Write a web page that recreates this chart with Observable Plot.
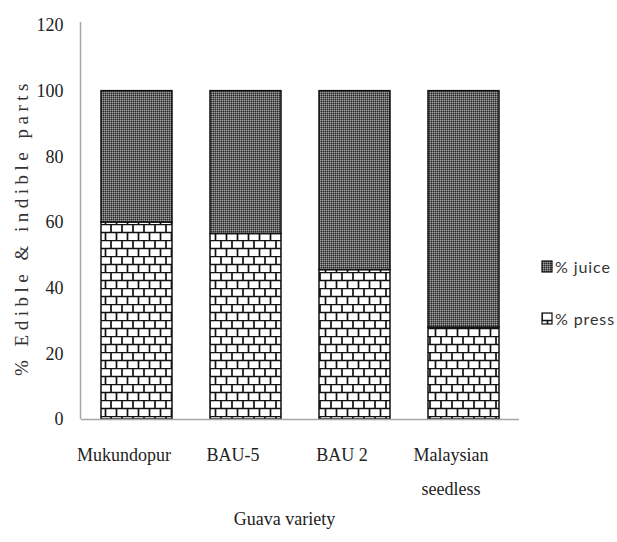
<!DOCTYPE html>
<html>
<head>
<meta charset="utf-8">
<script src="https://cdn.jsdelivr.net/npm/d3@7"></script>
<script src="https://cdn.jsdelivr.net/npm/@observablehq/plot@0.6"></script>
<style>
  body { margin: 0; background: #fff; }
  #wrap { position: relative; width: 617px; height: 542px; }
  #legend { position: absolute; left: 541px; top: 256px; font-family: Lato, "Liberation Sans", sans-serif; font-size: 16px; color: #333; letter-spacing: 0.9px; }
  #legend .row { display: flex; align-items: center; height: 20px; }
  #legend svg { margin-right: 2px; }
</style>
</head>
<body>
<div id="wrap">
  <div id="legend"></div>
</div>
<script>
const varieties = ["Mukundopur", "BAU-5", "BAU 2", "Malaysian seedless"];
const pressPct = [60, 56.5, 45.5, 28];
const juicePct = [40, 43.5, 54.5, 72];
const yTicks = [0, 20, 40, 60, 80, 100, 120];
const seriesNames = ["% juice", "% press"];
const xTitle = "Guava variety";
const yTitle = "% Edible & indible parts";

const rows = varieties.map((v, i) => ({variety: v, press: pressPct[i], juice: juicePct[i]}));

const serif = "'Liberation Serif', 'DejaVu Serif', serif";

function defsMark() {
  const svgNS = "http://www.w3.org/2000/svg";
  const g = document.createElementNS(svgNS, "g");
  g.innerHTML = `
    <defs>
      <pattern id="brick" patternUnits="userSpaceOnUse" width="22" height="16">
        <rect width="22" height="16" fill="#fff"/>
        <path d="M0 0.5H22M0 8.5H22M1 0V8M12 0V8M6.5 8V16M17.5 8V16" stroke="#111" stroke-width="1.7" fill="none"/>
      </pattern>
      <pattern id="dots" patternUnits="userSpaceOnUse" width="2" height="2">
        <rect width="2" height="2" fill="#666"/>
        <rect width="1" height="1" fill="#a0a0a0"/>
        <rect x="1" y="1" width="1" height="1" fill="#262626"/>
      </pattern>
    </defs>`;
  return g;
}

function yAxisLine(index, scales, values, dims) {
  const y = scales.y;
  const svgNS = "http://www.w3.org/2000/svg";
  const line = document.createElementNS(svgNS, "line");
  line.setAttribute("x1", dims.marginLeft - 0.5);
  line.setAttribute("x2", dims.marginLeft - 0.5);
  line.setAttribute("y1", y(yTicks[yTicks.length - 1]) - 3);
  line.setAttribute("y2", y(0));
  line.setAttribute("stroke", "#a6a6a6");
  line.setAttribute("stroke-width", 1.5);
  return line;
}

const chart = Plot.plot({
  width: 617,
  height: 542,
  marginLeft: 81,
  marginRight: 98,
  marginTop: 25,
  marginBottom: 123,
  style: {fontFamily: serif, fontSize: "18px", color: "#222", background: "#fff"},
  x: {domain: varieties, paddingInner: 0.35, paddingOuter: 0.175, axis: null},
  y: {domain: [0, 120], axis: null},
  marks: [
    defsMark,
    Plot.barY(rows, {x: "variety", y1: 0, y2: "press", fill: "url(#brick)", stroke: "#111", strokeWidth: 1.5}),
    Plot.barY(rows, {x: "variety", y1: "press", y2: d => d.press + d.juice, fill: "url(#dots)", stroke: "#111", strokeWidth: 1.5}),
    Plot.ruleY([0], {stroke: "#a6a6a6", strokeWidth: 1.5}),
    yAxisLine,
    Plot.axisY(yTicks, {tickSize: 0, tickPadding: 18, fontSize: 18, label: null, fill: "#222"}),
    Plot.text(varieties, {
      x: d => d,
      text: d => d.replace(" seedless", "\nseedless"),
      frameAnchor: "bottom",
      lineAnchor: "top",
      lineHeight: 1.9,
      dy: 17,
      dx: -13,
      fontSize: 18,
      fill: "#222"
    }),
    Plot.text([xTitle], {frameAnchor: "bottom", dy: 93, dx: -16, lineAnchor: "top", fontSize: 18, fill: "#222"}),
    Plot.text([yTitle], {frameAnchor: "left", textAnchor: "middle", dx: -60, dy: 5, rotate: -90, fontSize: 19, fill: "#333"})
  ]
});

d3.select(chart).selectAll("text")
  .filter(function () { return this.textContent === yTitle; })
  .style("letter-spacing", "4.5px");

document.getElementById("wrap").prepend(chart);

// legend
const legend = d3.select("#legend");
const legendFills = ["url(#dots)", "url(#brick)"];
seriesNames.forEach((name, i) => {
  const row = legend.append("div").attr("class", "row").style("margin-bottom", i === 0 ? "32px" : "0");
  const s = row.append("svg").attr("width", 12).attr("height", 13);
  s.append("rect").attr("x", 1).attr("y", 1).attr("width", 10).attr("height", 11)
    .attr("fill", legendFills[i]).attr("stroke", "#111").attr("stroke-width", 1.2);
  row.append("span").text(name);
});
</script>
</body>
</html>
